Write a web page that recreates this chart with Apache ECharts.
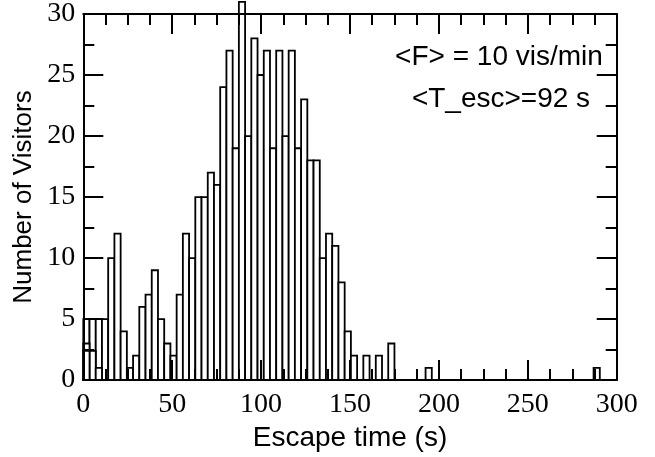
<!DOCTYPE html>
<html>
<head>
<meta charset="utf-8">
<script src="https://cdn.jsdelivr.net/npm/echarts@6/dist/echarts.min.js"></script>
<style>
html,body{margin:0;padding:0;background:#fff;}
#chart{width:655px;height:457px;}
</style>
</head>
<body>
<div id="chart"></div>
<script>
// Histogram of escape times (bin width 3.5 s), counts per bin starting at 0 s
const binWidth = 3.5;
const counts = [
  5, 5, 5, 5, 10, 12, 4, 1, 2, 6,
  7, 9, 5, 3, 2, 7, 12, 10, 15, 15,
  17, 16, 24, 27, 19, 31, 20, 28, 25, 27,
  19, 27, 20, 27, 19, 23, 18, 18, 10, 12,
  11, 8, 4, 2, 0, 2, 0, 2, 0, 3,
  0, 0, 0, 0, 0, 1, 0, 0, 0, 0,
  0, 0, 0, 0, 0, 0, 0, 0, 0, 0,
  0, 0, 0, 0, 0, 0, 0, 0, 0, 0,
  0, 0, 1, 0, 0, 0
];
// Overlapping (second-layer) bars drawn over the first bins
const overlayBins = [0, 1, 2, 0];
const overlayValues = [3, 2.4, 1, 2.4];

const xTicks = [0, 50, 100, 150, 200, 250, 300];
const yTicks = [0, 5, 10, 15, 20, 25, 30];
const xTitle = 'Escape time (s)';
const yTitle = 'Number of Visitors';
const note1 = '<F> = 10 vis/min';
const note2 = '<T_esc>=92 s';

const mainData = [];
counts.forEach((c, i) => { if (c > 0) mainData.push([i * binWidth, (i + 1) * binWidth, c]); });
const overData = overlayBins.map((b, k) => [b * binWidth, (b + 1) * binWidth, overlayValues[k]]);

function renderBar(params, api) {
  const x0 = api.value(0), x1 = api.value(1), v = api.value(2);
  const p0 = api.coord([x0, 0]);
  const p1 = api.coord([x1, v]);
  return {
    type: 'rect',
    shape: { x: p0[0], y: p1[1], width: p1[0] - p0[0], height: p0[1] - p1[1] },
    style: { fill: '#ffffff', stroke: '#000000', lineWidth: 1.8 }
  };
}

const axisLineStyle = { color: '#000', width: 2 };
function xAxisCfg(pos, labels) {
  return {
    type: 'value', position: pos, min: xTicks[0], max: xTicks[xTicks.length - 1], interval: 50,
    z: 5,
    axisLine: { show: true, onZero: false, lineStyle: axisLineStyle },
    axisTick: { show: true, inside: true, length: 20, lineStyle: { color: '#000', width: 2 } },
    minorTick: { show: true, splitNumber: 4, length: 11, lineStyle: { color: '#000', width: 2 } },
    splitLine: { show: false },
    axisLabel: { show: labels, margin: 11, color: '#000', fontFamily: 'Liberation Serif', fontSize: 28 },
    name: labels ? xTitle : '', nameLocation: 'middle', nameGap: 32,
    nameTextStyle: { color: '#000', fontFamily: 'Liberation Sans', fontSize: 28 }
  };
}
function yAxisCfg(pos, labels) {
  return {
    type: 'value', position: pos, min: yTicks[0], max: yTicks[yTicks.length - 1], interval: 5,
    z: 5,
    axisLine: { show: true, onZero: false, lineStyle: axisLineStyle },
    axisTick: { show: true, inside: true, length: 20, lineStyle: { color: '#000', width: 2 } },
    minorTick: { show: true, splitNumber: 2, length: 11, lineStyle: { color: '#000', width: 2 } },
    splitLine: { show: false },
    axisLabel: { show: labels, margin: 8, color: '#000', fontFamily: 'Liberation Serif', fontSize: 28 },
    name: labels ? yTitle : '', nameLocation: 'middle', nameGap: 46,
    nameTextStyle: { color: '#000', fontFamily: 'Liberation Sans', fontSize: 26 }
  };
}

const chart = echarts.init(document.getElementById('chart'), null, { renderer: 'canvas' });
chart.setOption({
  backgroundColor: '#fff',
  animation: false,
  grid: { left: 83.3, right: 38.3, top: 13.3, bottom: 74.3, containLabel: false },
  xAxis: [xAxisCfg('bottom', true), xAxisCfg('top', false)],
  yAxis: [yAxisCfg('left', true), yAxisCfg('right', false)],
  series: [
    { type: 'custom', renderItem: renderBar, data: mainData, encode: { x: [0, 1], y: 2 }, clip: false, z: 1 },
    { type: 'custom', renderItem: renderBar, data: overData, encode: { x: [0, 1], y: 2 }, clip: false, z: 1 }
  ],
  graphic: [
    { type: 'text', x: 499, y: 57, z: 10, style: { text: note1, font: '28px "Liberation Sans"', fill: '#000', align: 'center', verticalAlign: 'middle' } },
    { type: 'text', x: 501, y: 99, z: 10, style: { text: note2, font: '28px "Liberation Sans"', fill: '#000', align: 'center', verticalAlign: 'middle' } }
  ]
});
</script>
</body>
</html>
